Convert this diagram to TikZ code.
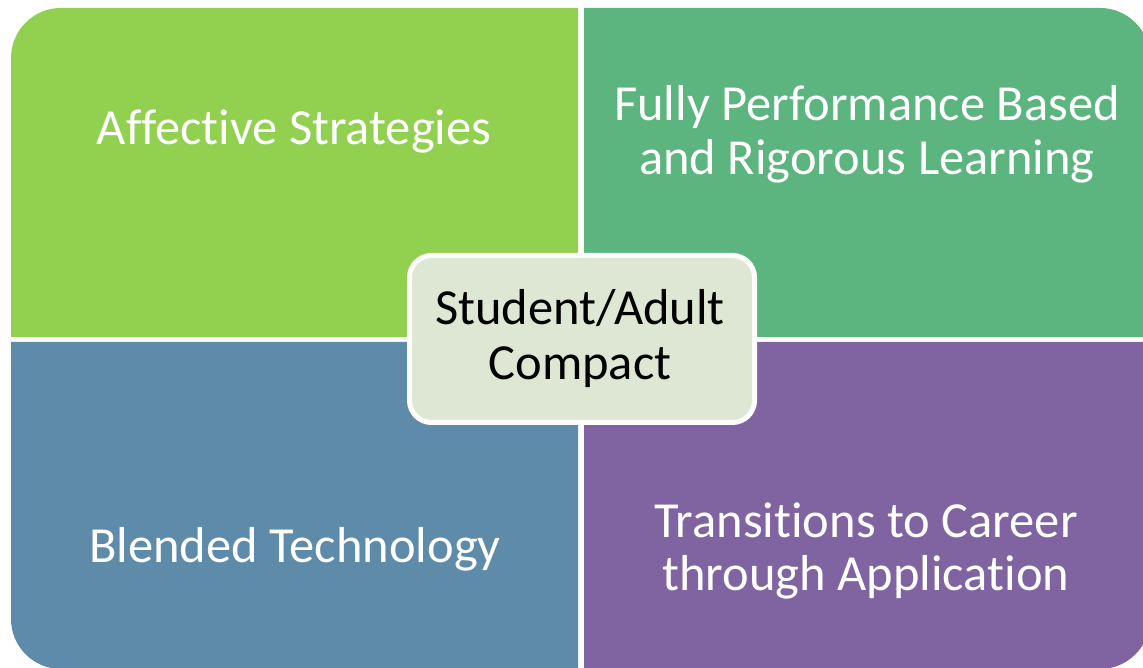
\documentclass[tikz,border=0pt]{standalone}
\usepackage{fontspec}
\setmainfont{Carlito}[Ligatures=NoCommon]
\definecolor{qgreen}{RGB}{146,208,80}
\definecolor{qteal}{RGB}{92,180,126}
\definecolor{qblue}{RGB}{94,139,170}
\definecolor{qpurple}{RGB}{128,100,161}
\definecolor{cfill}{RGB}{222,231,211}
\begin{document}
\begin{tikzpicture}[x=1pt,y=1pt,
  qtext/.style={anchor=base,text=white,inner sep=0pt,font=\fontsize{50.5}{55}\selectfont},
  ctext/.style={anchor=base,text=black,inner sep=0pt,font=\fontsize{50.5}{55}\selectfont},
  cbox/.style={draw=white,line width=5pt,fill=cfill,rounded corners=22pt,minimum width=345pt,minimum height=167pt,inner sep=0pt}]
\useasboundingbox (0,0) rectangle (1143,668);
\clip (0,0) rectangle (1143,668);
\fill[white] (0,0) rectangle (1143,668);
% quadrants
\fill[qgreen] (11,331) -- (11,610) arc[start angle=180,end angle=90,radius=50] -- (578,660) -- (578,331) -- cycle;
\fill[qteal] (584,331) -- (584,660) -- (1100,660) arc[start angle=90,end angle=0,radius=50] -- (1150,331) -- cycle;
\fill[qblue] (11,326) -- (578,326) -- (578,-1) -- (61,-1) arc[start angle=270,end angle=180,radius=50] -- cycle;
\fill[qpurple] (584,326) -- (1150,326) -- (1150,49) arc[start angle=0,end angle=-90,radius=50] -- (584,-1) -- cycle;
% texts
\node[qtext] (aff) at (294,523) {Affective Strategies};
\node[qtext] (full1) at (867,547) {Fully Performance Based};
\node[qtext] (full2) at (867,493) {and Rigorous Learning};
\node[qtext] (blend) at (295,105) {Blended Technology};
\node[qtext] (tran1) at (866,130) {Transitions to Career};
\node[qtext] (tran2) at (866,77) {through Application};
% center
\node[cbox] (center) at (582,329) {};
\node[ctext] (stu1) at (580,343) {Student/Adult};
\node[ctext] (stu2) at (580,288) {Compact};
\end{tikzpicture}
\end{document}
